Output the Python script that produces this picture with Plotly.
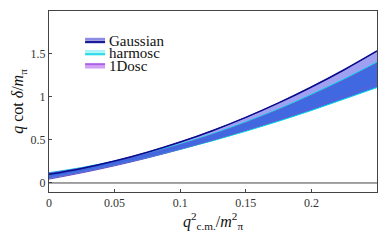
import plotly.graph_objects as go

x_vals = [0, 0.025, 0.05, 0.075, 0.1, 0.125, 0.15, 0.175, 0.2, 0.225, 0.25]

gauss_lo = [0.045, 0.118, 0.200, 0.291, 0.391, 0.500, 0.618, 0.745, 0.881, 1.026, 1.18]
gauss_hi = [0.100, 0.169, 0.255, 0.357, 0.476, 0.611, 0.763, 0.931, 1.116, 1.317, 1.535]
harm_lo = [0.065, 0.135, 0.212, 0.297, 0.391, 0.492, 0.601, 0.718, 0.843, 0.976, 1.11]
harm_hi = [0.120, 0.180, 0.256, 0.347, 0.453, 0.573, 0.710, 0.860, 1.030, 1.210, 1.405]
dosc_lo = [0.055, 0.127, 0.207, 0.296, 0.394, 0.500, 0.615, 0.738, 0.870, 1.011, 1.16]
dosc_hi = [0.115, 0.175, 0.250, 0.340, 0.445, 0.565, 0.700, 0.850, 1.015, 1.195, 1.39]

legend_names = ["Gaussian", "harmosc", "1Dosc"]

x_ticks = [0, 0.05, 0.1, 0.15, 0.2]
x_tick_text = ["0", "0.05", "0.1", "0.15", "0.2"]
y_ticks = [0, 0.5, 1, 1.5]
y_tick_text = ["0", "0.5", "1", "1.5"]

FONT = "Liberation Serif"

fig = go.Figure()


def band(lo, hi, fill, edge, width):
    fig.add_trace(go.Scatter(x=x_vals, y=lo, mode="lines", line=dict(color=edge, width=width, shape="spline"),
                             showlegend=False, hoverinfo="skip"))
    fig.add_trace(go.Scatter(x=x_vals, y=hi, mode="lines", line=dict(color=edge, width=width, shape="spline"),
                             fill="tonexty", fillcolor=fill, showlegend=False, hoverinfo="skip"))


band(gauss_lo, gauss_hi, "#a0a0f2", "#5a4fc8", 1)
band(harm_lo, harm_hi, "#4169e1", "#00d8ea", 1)
band(dosc_lo, dosc_hi, "rgba(65,105,225,0.85)", "#6a5acd", 0.8)
# Gaussian upper edge on top
fig.add_trace(go.Scatter(x=x_vals, y=gauss_hi, mode="lines", line=dict(color="#0a0a8c", width=1.5, shape="spline"),
                         showlegend=False, hoverinfo="skip"))

# zero line
fig.add_hline(y=0, line=dict(color="#444444", width=1))

# manual legend
leg_x0, leg_x1 = 0.110, 0.171
leg_rows = [
    (legend_names[0], 0.835, "#8c8ce8", "#1a1a9a"),
    (legend_names[1], 0.768, "#a8f4f8", "#33dde8"),
    (legend_names[2], 0.695, "#b060e8", "#d0a0f4"),
]
for name, yc, c_top, c_bot in leg_rows:
    fig.add_shape(type="line", xref="paper", yref="paper", x0=leg_x0, x1=leg_x1, y0=yc + 0.010, y1=yc + 0.010,
                  line=dict(color=c_top, width=2.5))
    fig.add_shape(type="line", xref="paper", yref="paper", x0=leg_x0, x1=leg_x1, y0=yc - 0.006, y1=yc - 0.006,
                  line=dict(color=c_bot, width=2.5))
    fig.add_annotation(x=leg_x1 + 0.005, y=yc, xref="paper", yref="paper", text=name, showarrow=False,
                       xanchor="left", yanchor="middle", font=dict(family=FONT, size=15, color="#111111"))

# the page body adds an 8px offset on the left and top; size the figure to compensate
fig.update_layout(
    width=381, height=233,
    margin=dict(l=41, r=12, t=3, b=49),
    paper_bgcolor="white", plot_bgcolor="white",
    showlegend=False,
    font=dict(family=FONT, size=12, color="#333333"),
)
fig.update_xaxes(
    range=[0, 0.25], tickvals=x_ticks, ticktext=x_tick_text,
    ticks="inside", ticklen=3, tickcolor="#444444",
    showline=True, linecolor="#444444", linewidth=1, mirror=True,
    showgrid=False, zeroline=False, automargin=False,
    tickfont=dict(family=FONT, size=12, color="#333333"),
    title=dict(text="<i>q</i><sup>2</sup><sub>c.m.</sub>/<i>m</i><sup>2</sup><sub>π</sub>",
               font=dict(family=FONT, size=16, color="#111111"), standoff=4),
)
fig.update_yaxes(
    range=[-0.105, 2.0], tickvals=y_ticks, ticktext=y_tick_text,
    ticks="inside", ticklen=3, tickcolor="#444444",
    showline=True, linecolor="#444444", linewidth=1, mirror=True,
    showgrid=False, zeroline=False, automargin=False,
    tickfont=dict(family=FONT, size=12, color="#333333"),
    title=dict(text="<i>q</i> cot <i>δ</i>/<i>m</i><sub>π</sub>",
               font=dict(family=FONT, size=16, color="#111111"), standoff=2),
)

fig.write_html("out.html")
